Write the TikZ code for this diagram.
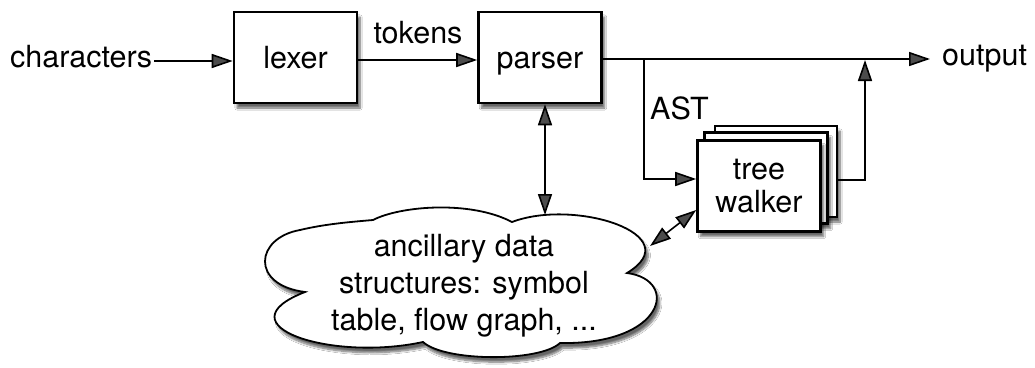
\documentclass[tikz,border=0pt]{standalone}
\usepackage{fontspec}
\setmainfont{TeX Gyre Heros}
\usetikzlibrary{arrows.meta,shadows.blur}
\begin{document}
\begin{tikzpicture}[x=1pt,y=-1pt,
  every node/.style={font=\fontsize{30.5}{33}\selectfont},
  shad/.style={blur shadow={shadow xshift=3pt, shadow yshift=-5pt, shadow opacity=60, shadow blur steps=8}},
  box/.style={draw, line width=2.6pt, fill=white, minimum width=123pt, minimum height=91pt,
    inner sep=0pt, text height=22pt, text depth=0pt, shad},
  lbl/.style={inner sep=0pt},
  tip/.tip={Triangle[length=21pt,width=14pt]},
  arr/.style={line width=1.6pt, -tip},
  darr/.style={line width=1.6pt, tip-tip},
  cloudline/.style={draw, line width=1.8pt, fill=white, shad},
]
\useasboundingbox[fill=white] (0,0) rectangle (1035,367);

\node[lbl, anchor=base west] (chars) at (10,67) {characters};
\node[box] (lexer) at (295.5,57.5) {lexer};
\node[box] (parser) at (540,57.5) {parser};
\node[lbl, anchor=base] (tokens) at (418,43) {tokens};
\node[lbl, anchor=base west] (out) at (942,65) {output};
\node[lbl, anchor=base west] (ast) at (650,119) {AST};

\node[box, minimum width=122pt] (tw3) at (776,171.5) {};
\node[box] (tw2) at (766,178) {};
\node[box, align=center, text height={}, text depth={}] (tw) at (759,186) {tree\\walker};

% cloud outline
\path[cloudline] (305,292)
  .. controls (250,285) and (255,238) .. (300,230)
  .. controls (325,224) and (350,222) .. (373,220)
  .. controls (400,206) and (470,200) .. (512,222)
  .. controls (575,198) and (690,235) .. (627,273)
  .. controls (680,280) and (665,345) .. (560,343)
  .. controls (540,362) and (445,362) .. (423,342)
  .. controls (330,362) and (220,325) .. cycle;
\node[lbl, align=center, font=\fontsize{30.5}{37}\selectfont] (ctext) at (464,286)
  {ancillary data\\structures: symbol\\table, flow graph, ...};

\coordinate (ya) at (0,61);
\coordinate (yb) at (0,60);
\coordinate (split) at (644,59);
\coordinate (join) at (865,59);
\coordinate (twin) at (0,179);
\coordinate (twout) at (0,180);
\coordinate (pc) at (545,215);
\coordinate (cw) at (650,246);
\coordinate (twc) at (0,210);

\draw[arr, shorten <=2pt] (chars.east |- ya) -- (lexer.west |- ya);
\draw[arr] (lexer.east |- yb) -- (parser.west |- yb);
\draw[arr, shorten >=12pt] (parser.east |- split) -- (out.west |- split);
\draw[arr] (split) |- (tw.west |- twin);
\draw[arr, shorten >=1pt] (tw3.east |- twout) -| (join);
\draw[darr] (parser.south -| pc) -- (pc);
\draw[darr] (cw) -- (tw.west |- twc);
\end{tikzpicture}
\end{document}
